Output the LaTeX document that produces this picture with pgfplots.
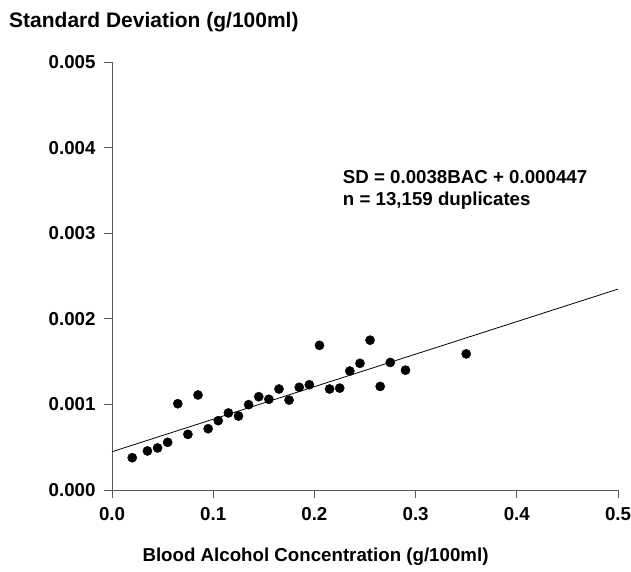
\documentclass[border=0pt]{standalone}
\usepackage{pgfplots}
\pgfplotsset{compat=1.18}
\usepackage{fontspec}
\setmainfont{Liberation Sans}
\begin{document}
\begin{tikzpicture}
\begin{axis}[
  at={(0,0)}, anchor=south west,
  scale only axis, width=506bp, height=428bp,
  xmin=0, xmax=0.5, ymin=0, ymax=0.005,
  axis x line*=bottom, axis y line*=left,
  axis line style={black!65, line width=0.8pt},
  tick style={black!65, line width=0.8pt},
  tick align=outside, major tick length=8bp,
  xtick={0,0.1,0.2,0.3,0.4,0.5},
  ytick={0,0.001,0.002,0.003,0.004,0.005},
  scaled ticks=false,
  /pgf/number format/assume math mode=true,
  xticklabel style={/pgf/number format/fixed, /pgf/number format/fixed zerofill, /pgf/number format/precision=1, yshift=-6bp},
  yticklabel style={/pgf/number format/fixed, /pgf/number format/fixed zerofill, /pgf/number format/precision=3, xshift=-5bp},
  ticklabel style={font=\fontsize{18.7bp}{22bp}\selectfont\bfseries},
  clip=false,
]
\addplot[only marks, mark=*, mark size=4.6bp, black] coordinates {
(0.02,0.000377) (0.035,0.000456) (0.045,0.000491) (0.055,0.000557)
(0.065,0.001008) (0.075,0.00065) (0.085,0.00111) (0.095,0.000716)
(0.105,0.00081) (0.115,0.0009) (0.125,0.000864) (0.135,0.000997)
(0.145,0.00109) (0.155,0.00106) (0.165,0.00118) (0.175,0.00105)
(0.185,0.0012) (0.195,0.00123) (0.205,0.00169) (0.215,0.00118)
(0.225,0.00119) (0.235,0.00139) (0.245,0.00148) (0.255,0.00175)
(0.265,0.00121) (0.275,0.00149) (0.29,0.0014) (0.35,0.00159)
};
\addplot[black, line width=0.8pt] coordinates {(0,0.000447) (0.5,0.002347)};
\node[anchor=base west, font=\fontsize{18.7bp}{22bp}\selectfont\bfseries, inner sep=0pt] at (axis cs:0.228,0.003586) {SD = 0.0038BAC + 0.000447};
\node[anchor=base west, font=\fontsize{18.7bp}{22bp}\selectfont\bfseries, inner sep=0pt] at (axis cs:0.228,0.00332) {n = 13,159 duplicates};
\end{axis}
\node[anchor=base west, font=\fontsize{21bp}{25bp}\selectfont\bfseries, inner sep=0pt] at (-103bp,462bp) {Standard Deviation (g/100ml)};
\node[anchor=base, font=\fontsize{18.7bp}{22bp}\selectfont\bfseries, inner sep=0pt] at (203.5bp,-71bp) {Blood Alcohol Concentration (g/100ml)};
\pgfresetboundingbox
\path[use as bounding box] (-112bp,-82bp) rectangle (519bp,490bp);
\end{tikzpicture}
\end{document}
